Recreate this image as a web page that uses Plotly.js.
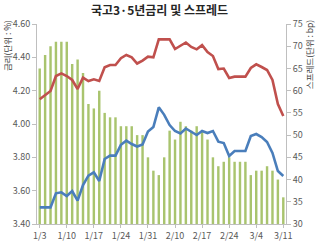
<!DOCTYPE html>
<html>
<head>
<meta charset="utf-8">
<script src="https://cdn.plot.ly/plotly-3.0.1.min.js"></script>
<style>html,body{margin:0;padding:0;background:#fff;}#chart{width:319px;height:242px;}</style>
</head>
<body>
<div id="chart"></div>
<script>
const dates = ["1/3","1/4","1/5","1/6","1/7","1/10","1/11","1/12","1/13","1/14","1/17","1/18","1/19","1/20","1/21","1/24","1/25","1/26","1/27","1/28","1/31","2/1","2/7","2/8","2/9","2/10","2/11","2/14","2/15","2/16","2/17","2/18","2/21","2/22","2/23","2/24","2/25","2/28","3/2","3/3","3/4","3/7","3/8","3/9","3/10","3/11"];
const yield5 = [4.148,4.174,4.198,4.288,4.304,4.288,4.264,4.21,4.278,4.258,4.268,4.258,4.34,4.354,4.354,4.395,4.414,4.40,4.363,4.38,4.404,4.40,4.508,4.508,4.508,4.45,4.468,4.489,4.462,4.448,4.473,4.432,4.408,4.33,4.333,4.276,4.284,4.284,4.284,4.336,4.358,4.342,4.324,4.264,4.12,4.048];
const yield3 = [3.50,3.50,3.50,3.584,3.59,3.568,3.598,3.54,3.634,3.69,3.71,3.658,3.79,3.81,3.81,3.875,3.90,3.88,3.865,3.877,3.955,3.982,4.10,4.055,3.994,3.958,3.943,3.973,3.955,3.934,3.958,3.946,3.958,3.894,3.886,3.808,3.838,3.838,3.838,3.928,3.94,3.922,3.892,3.826,3.718,3.688];
const spread = [65,68,70,71,71,71,66,67,64,57,56,60,55,54,54,52,52,52,50,50,45,42,41,45,51,49,53,52,51,52,51,49,45,43,44,45,44,44,44,41,42,42,43,42,40,36];
const tickLabels = ["1/3","1/10","1/17","1/24","1/31","2/10","2/17","2/24","3/4","3/11"];
const titleText = "국고3·5년금리 및 스프레드";
const leftTitle = "금리(단위 : %)";
const rightTitle = "스프레드(단위 : bp)";

const fontFam = "'Noto Sans CJK KR', 'Noto Sans', sans-serif";
const axisColor = "#bfbfbf";
const tickFont = {family: fontFam, size: 9, color: "#595959"};

const traces = [
  {type: "bar", x: dates, y: spread, yaxis: "y", marker: {color: "#a9c46e"}, hoverinfo: "none"},
  {type: "scatter", mode: "lines", x: dates, y: yield5, yaxis: "y2", line: {color: "#c0504d", width: 2.6}, hoverinfo: "none"},
  {type: "scatter", mode: "lines", x: dates, y: yield3, yaxis: "y2", line: {color: "#4a7ebb", width: 2.6}, hoverinfo: "none"}
];

const layout = {
  width: 319, height: 242,
  margin: {l: 37, r: 33, t: 24, b: 18},
  paper_bgcolor: "#fff", plot_bgcolor: "#fff",
  showlegend: false,
  bargap: 0.55,
  font: {family: fontFam},
  title: {text: "<b>" + titleText + "</b>", font: {family: fontFam, size: 12, color: "#262626"}, x: 0.5, xanchor: "center", y: 0.955, yanchor: "middle"},
  xaxis: {
    type: "category", range: [-0.5, 45.5],
    tickmode: "array", tickvals: tickLabels, ticktext: tickLabels,
    showline: true, linecolor: axisColor, linewidth: 1,
    ticks: "outside", ticklen: 3, tickcolor: axisColor,
    showgrid: false, zeroline: false, tickfont: tickFont, fixedrange: true
  },
  yaxis: {
    side: "right", range: [30, 75], dtick: 5, tick0: 30,
    showline: true, linecolor: axisColor, linewidth: 1,
    ticks: "outside", ticklen: 4, tickcolor: axisColor,
    showgrid: false, zeroline: false, tickfont: tickFont
  },
  yaxis2: {
    side: "left", overlaying: "y", range: [3.4, 4.6], dtick: 0.2, tick0: 3.4, tickformat: ".2f",
    showline: true, linecolor: axisColor, linewidth: 1,
    ticks: "outside", ticklen: 4, tickcolor: axisColor,
    showgrid: false, zeroline: false, tickfont: tickFont
  },
  annotations: [
    {text: leftTitle, xref: "paper", yref: "paper", x: -0.118, y: 1.03, xanchor: "center", yanchor: "top", textangle: -90, showarrow: false, font: {family: fontFam, size: 8.5, color: "#404040"}},
    {text: rightTitle, xref: "paper", yref: "paper", x: 1.095, y: 1.03, xanchor: "center", yanchor: "top", textangle: -90, showarrow: false, font: {family: fontFam, size: 8.5, color: "#404040"}}
  ]
};

Plotly.newPlot("chart", traces, layout, {displayModeBar: false, staticPlot: true});
</script>
</body>
</html>
